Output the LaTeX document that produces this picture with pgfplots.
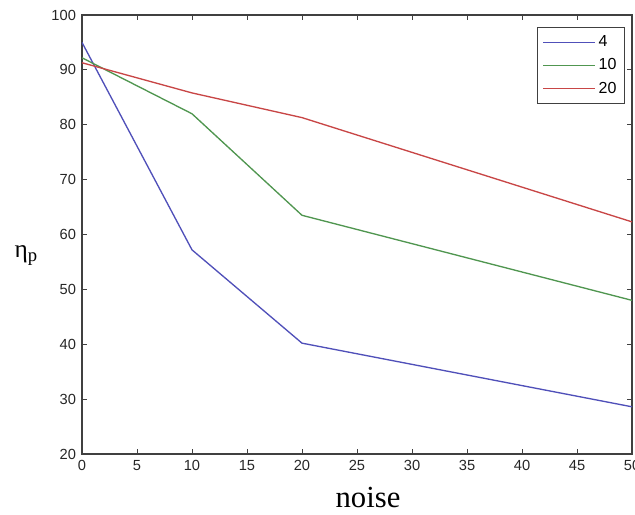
\documentclass[border=0pt]{standalone}
\usepackage{fontspec}
\setmainfont{Liberation Serif}
\newfontfamily\arial{Liberation Sans}
\usepackage{pgfplots}
\pgfplotsset{compat=1.18}
\usetikzlibrary{calc}
\definecolor{cblue}{RGB}{80,80,185}
\definecolor{cgreen}{RGB}{80,150,80}
\definecolor{cred}{RGB}{200,70,70}
\begin{document}
\begin{tikzpicture}
\begin{axis}[
  scale only axis,
  width=412.5pt, height=329.25pt,
  xmin=0, xmax=50, ymin=20, ymax=100,
  xtick={0,5,...,50}, ytick={20,30,...,100},
  tick align=inside,
  major tick length=4pt,
  axis line style={black!75, line width=0.8pt},
  every tick/.style={black!75, line width=0.6pt},
  tick label style={font=\arial\fontsize{11}{12}\selectfont, text=black!85},
  /pgf/number format/assume math mode=true,
  xticklabel style={yshift=-1pt},
  yticklabel style={xshift=-1pt},
  xlabel={\fontsize{23}{23}\selectfont noise},
  xlabel style={at={(axis description cs:0.52,-0.1)}, anchor=center},
  ylabel={\fontsize{19}{19}\selectfont η\raisebox{-0.35ex}{\fontsize{14}{14}\selectfont p}},
  ylabel style={at={(axis description cs:-0.102,0.453)}, anchor=center, rotate=-90},
  legend style={at={(axis description cs:0.987,0.973)}, anchor=north east,
    draw=black!75, line width=0.6pt, font=\arial\fontsize{12}{13}\selectfont,
    row sep=3.4pt, inner xsep=4pt, inner ysep=4.5pt, cells={anchor=west}},
  legend image code/.code={\draw[#1, line width=1.3pt] (0pt,0pt) -- (39pt,0pt);},
]
\addplot[color=cblue, line width=1pt] coordinates {(0,95) (10,57.2) (20,40.2) (50,28.6)};
\addlegendentry{4}
\addplot[color=cgreen, line width=1pt] coordinates {(0,92.2) (10,82) (20,63.5) (50,48)};
\addlegendentry{10}
\addplot[color=cred, line width=1pt] coordinates {(0,91.3) (10,85.8) (20,81.3) (50,62.3)};
\addlegendentry{20}
\coordinate (sw) at (rel axis cs:0,0);
\coordinate (ne) at (rel axis cs:1,1);
\end{axis}
\pgfresetboundingbox
\path ($(sw)+(-61.5pt,-45pt)$) rectangle ($(ne)+(2.25pt,11.25pt)$);
\end{tikzpicture}
\end{document}
